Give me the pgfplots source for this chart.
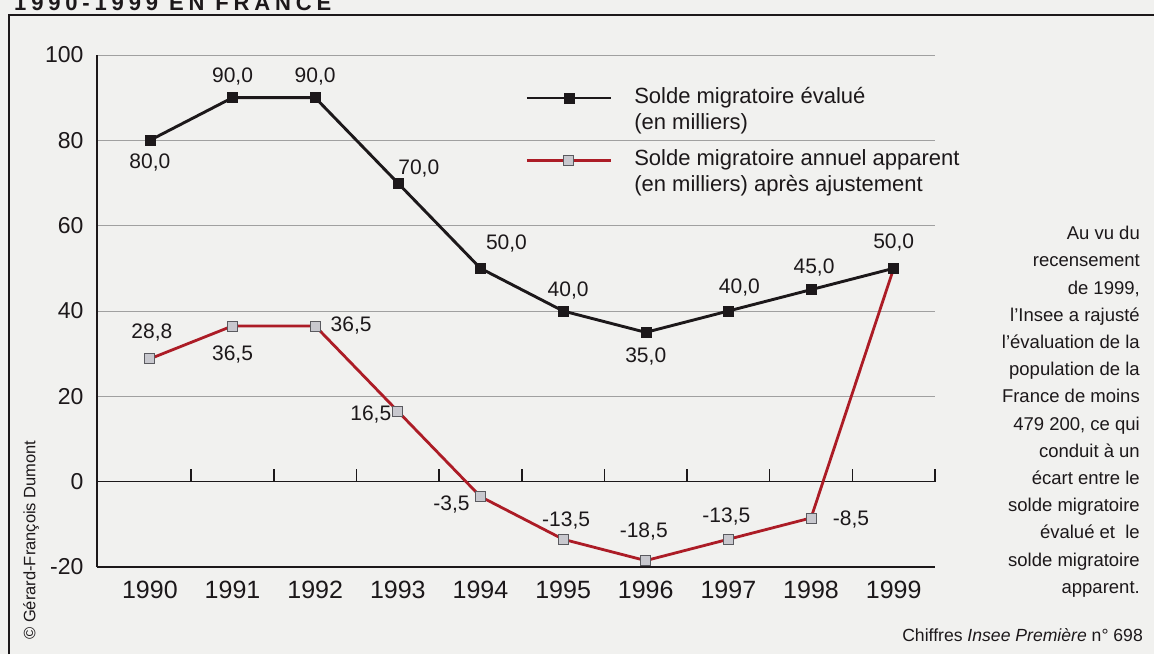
\documentclass[border=0pt]{standalone}
\usepackage{pgfplots}
\pgfplotsset{compat=1.18}
\usepackage{fontspec}
\setmainfont{Liberation Sans}
\definecolor{redl}{RGB}{172,28,38}
\definecolor{bg}{RGB}{241,241,239}
\definecolor{gridc}{RGB}{160,160,160}
\definecolor{mfill}{RGB}{200,200,206}
\definecolor{mdraw}{RGB}{90,90,95}
\definecolor{ink}{RGB}{28,24,26}
\begin{document}
\begin{tikzpicture}
\path[use as bounding box] (0pt,0pt) rectangle (1154pt,654pt);
\clip (0pt,0pt) rectangle (1154pt,654pt);
\fill[bg] (0pt,0pt) rectangle (1154pt,654pt);
\draw[line width=2.6pt, ink] (9pt,0pt) -- (9pt,639pt) -- (1154pt,639pt);
\node[anchor=base west, inner sep=0, font=\fontsize{22}{22}\selectfont\bfseries\addfontfeatures{LetterSpace=22}, ink] at (14pt,643.5pt) {1990-1999 EN FRANCE};
\node[rotate=90, inner sep=0, font=\fontsize{16.5}{16.5}\selectfont, ink] at (31pt,114pt) {© Gérard-François Dumont};
\node[anchor=north east, align=right, inner sep=0, font=\fontsize{18.5}{27.2}\selectfont, ink] at (1140pt,428pt) {Au vu du\\recensement\\de 1999,\\l’Insee a rajusté\\l’évaluation de la\\population de la\\France de moins\\479 200, ce qui\\conduit à un\\écart entre le\\solde migratoire\\évalué et\ \ le\\solde migratoire\\apparent.};
\node[anchor=base east, inner sep=0, font=\fontsize{17.6}{17.6}\selectfont, ink] at (1143pt,12.5pt) {Chiffres \textit{Insee Première} n° 698};
\begin{axis}[
  at={(97pt,87pt)}, anchor=south west, scale only axis,
  width=838pt, height=512pt,
  xmin=-0.64, xmax=9.5, ymin=-20, ymax=100,
  axis lines=left, axis line style={-, line width=1.5pt, ink},
  xtick={0,1,2,3,4,5,6,7,8,9},
  xticklabels={1990,1991,1992,1993,1994,1995,1996,1997,1998,1999},
  ytick={-20,0,20,40,60,80,100},
  major tick length=0pt,
  x tick label style={font=\fontsize{25}{25}\selectfont, ink, yshift=-11pt},
  y tick label style={font=\fontsize{23}{23}\selectfont, ink, xshift=-10pt},
  /pgf/number format/assume math mode=true,
  ymajorgrids, grid style={gridc, line width=0.8pt},
  clip=false,
  legend cell align=left,
  legend style={at={(0.511,0.94)}, anchor=north west, draw=none, fill=none,
    inner sep=0pt, row sep=30pt, column sep=22pt,
    nodes={inner sep=0pt, font=\fontsize{22}{25.5}\selectfont, ink}},
  legend image code/.code={\draw[#1, mark repeat=2, mark phase=2] plot coordinates {(0pt,4pt) (42pt,4pt) (84pt,4pt)};},
]
\addplot[ink, line width=1.5pt, forget plot] coordinates {(-0.64,0) (9.5,0)};
\addplot[ycomb, ink, line width=1.5pt, no marks, forget plot] coordinates {(0.5,2.9) (1.5,2.9) (2.5,2.9) (3.5,2.9) (4.5,2.9) (5.5,2.9) (6.5,2.9) (7.5,2.9) (8.5,2.9) (9.5,2.9)};
\addplot[redl, line width=2.8pt, mark=square*, mark size=5pt, mark options={fill=mfill, draw=mdraw, line width=0.8pt}, forget plot] coordinates {(0,28.8) (1,36.5) (2,36.5) (3,16.5) (4,-3.5) (5,-13.5) (6,-18.5) (7,-13.5) (8,-8.5) (9,50)};
\addplot[ink, line width=2.9pt, mark=square*, mark size=5pt, mark options={fill=ink, draw=ink, line width=0.5pt}, forget plot] coordinates {(0,80) (1,90) (2,90) (3,70) (4,50) (5,40) (6,35) (7,40) (8,45) (9,50)};
\addlegendimage{ink, line width=2.9pt, mark=square*, mark size=5pt, mark options={fill=ink, draw=ink, line width=0.5pt}}
\addlegendentry{\begin{tabular}{@{}l@{}}Solde migratoire évalué\\(en milliers)\end{tabular}}
\addlegendimage{redl, line width=2.8pt, mark=square*, mark size=5pt, mark options={fill=mfill, draw=mdraw, line width=0.8pt}}
\addlegendentry{\begin{tabular}{@{}l@{}}Solde migratoire annuel apparent\\(en milliers) après ajustement\end{tabular}}
\tikzset{lab/.style={font=\fontsize{21}{21}\selectfont, ink, inner sep=0pt}}
\node[lab, yshift=-22pt] at (axis cs:0,80) {80,0};
\node[lab, yshift=21pt] at (axis cs:1,90) {90,0};
\node[lab, yshift=21pt] at (axis cs:2,90) {90,0};
\node[lab, xshift=21pt, yshift=14pt] at (axis cs:3,70) {70,0};
\node[lab, xshift=26pt, yshift=25pt] at (axis cs:4,50) {50,0};
\node[lab, xshift=5pt, yshift=20pt] at (axis cs:5,40) {40,0};
\node[lab, yshift=-24pt] at (axis cs:6,35) {35,0};
\node[lab, xshift=11pt, yshift=23pt] at (axis cs:7,40) {40,0};
\node[lab, xshift=3pt, yshift=22pt] at (axis cs:8,45) {45,0};
\node[lab, yshift=26pt] at (axis cs:9,50) {50,0};
\node[lab, xshift=2pt, yshift=26pt] at (axis cs:0,28.8) {28,8};
\node[lab, yshift=-29pt] at (axis cs:1,36.5) {36,5};
\node[lab, xshift=36pt] at (axis cs:2,36.5) {36,5};
\node[lab, xshift=-27pt, yshift=-3pt] at (axis cs:3,16.5) {16,5};
\node[lab, xshift=-29pt, yshift=-8pt] at (axis cs:4,-3.5) {-3,5};
\node[lab, xshift=3pt, yshift=19pt] at (axis cs:5,-13.5) {-13,5};
\node[lab, xshift=-2pt, yshift=29pt] at (axis cs:6,-18.5) {-18,5};
\node[lab, xshift=-2pt, yshift=23pt] at (axis cs:7,-13.5) {-13,5};
\node[lab, xshift=40pt, yshift=-2pt] at (axis cs:8,-8.5) {-8,5};
\end{axis}
\end{tikzpicture}
\end{document}
